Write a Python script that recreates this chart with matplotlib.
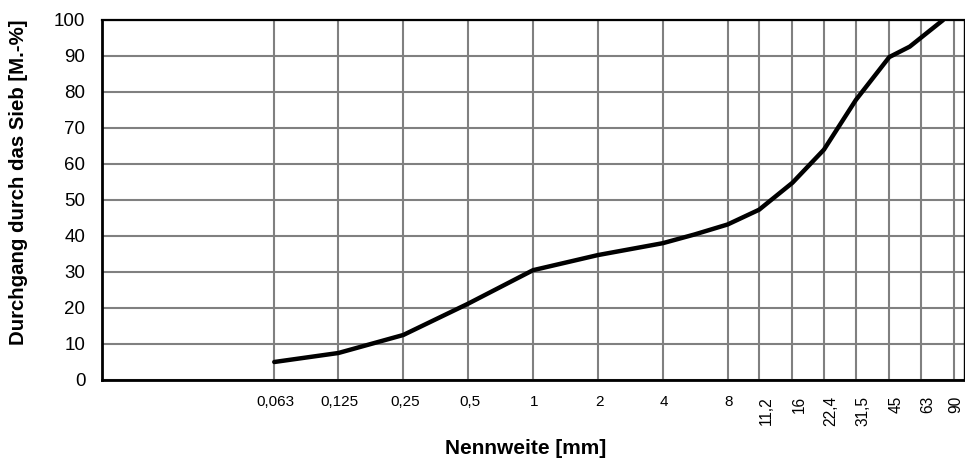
import numpy as np
import matplotlib
matplotlib.use("Agg")
import matplotlib.pyplot as plt
from matplotlib.ticker import FixedLocator, NullLocator
from matplotlib.transforms import ScaledTranslation

plt.rcParams['font.family'] = ['Liberation Sans', 'DejaVu Sans']

# sieve sizes (grid / tick positions) and their labels
sieves = [0.063, 0.125, 0.25, 0.5, 1, 2, 4, 8, 11.2, 16, 22.4, 31.5, 45, 63, 90]
sieve_labels = ["0,063", "0,125", "0,25", "0,5", "1", "2", "4", "8",
                "11,2", "16", "22,4", "31,5", "45", "63", "90"]

# grading curve
size_mm = [0.063, 0.125, 0.25, 0.5, 1, 2, 4, 5.6, 8, 11.2, 16, 22.4, 31.5, 45, 56, 80]
passing = [5.0, 7.5, 12.5, 21.2, 30.5, 34.7, 38.0, 40.4, 43.2, 47.3, 54.8, 64.0, 77.8, 89.7, 92.6, 100.0]

fig = plt.figure(figsize=(9.65, 4.63), dpi=100)
ax = fig.add_axes([102 / 965, 83 / 463, 862 / 965, 360 / 463])

ax.set_xscale('log', base=2)
ax.set_xlim(0.01, 100)
ax.set_ylim(0, 100)

ax.plot(size_mm, passing, color='black', lw=3.2, solid_capstyle='round',
        solid_joinstyle='round', zorder=3)

ax.xaxis.set_major_locator(FixedLocator(sieves))
ax.xaxis.set_minor_locator(NullLocator())
ax.set_xticklabels([])
ax.set_yticks(np.arange(0, 101, 10))

# sieve labels: small ones flat, large ones turned, as in the original
base = ax.get_xaxis_transform()
for v, txt in zip(sieves, sieve_labels):
    if v > 10:
        dx = 0.07 if v < 80 else 0.02   # last one kept inside the figure
        tr = base + ScaledTranslation(dx, -0.16, fig.dpi_scale_trans)
        ax.text(v, 0, txt, transform=tr, rotation=90, ha='center', va='top',
                fontsize=11.2, clip_on=False)
    else:
        tr = base + ScaledTranslation(0.015, -0.22, fig.dpi_scale_trans)
        ax.text(v, 0, txt, transform=tr, ha='center', va='center',
                fontsize=11, clip_on=False)

ax.grid(True, color='#808080', lw=1.5)
ax.set_axisbelow(True)
ax.tick_params(axis='x', length=0)
ax.tick_params(axis='y', length=0, pad=12, labelsize=13.5)

for side, w in [('left', 2.0), ('bottom', 2.0), ('top', 1.6), ('right', 1.0)]:
    ax.spines[side].set_linewidth(w)
    ax.spines[side].set_color('black')

ax.set_xlabel("Nennweite [mm]", fontsize=15, fontweight='bold')
ax.set_ylabel("Durchgang durch das Sieb [M.-%]", fontsize=14.7, fontweight='bold')
ax.yaxis.set_label_coords(-0.086, 0.55)
ax.xaxis.set_label_coords(0.491, -0.165)

fig.savefig("out.png", dpi=100)
